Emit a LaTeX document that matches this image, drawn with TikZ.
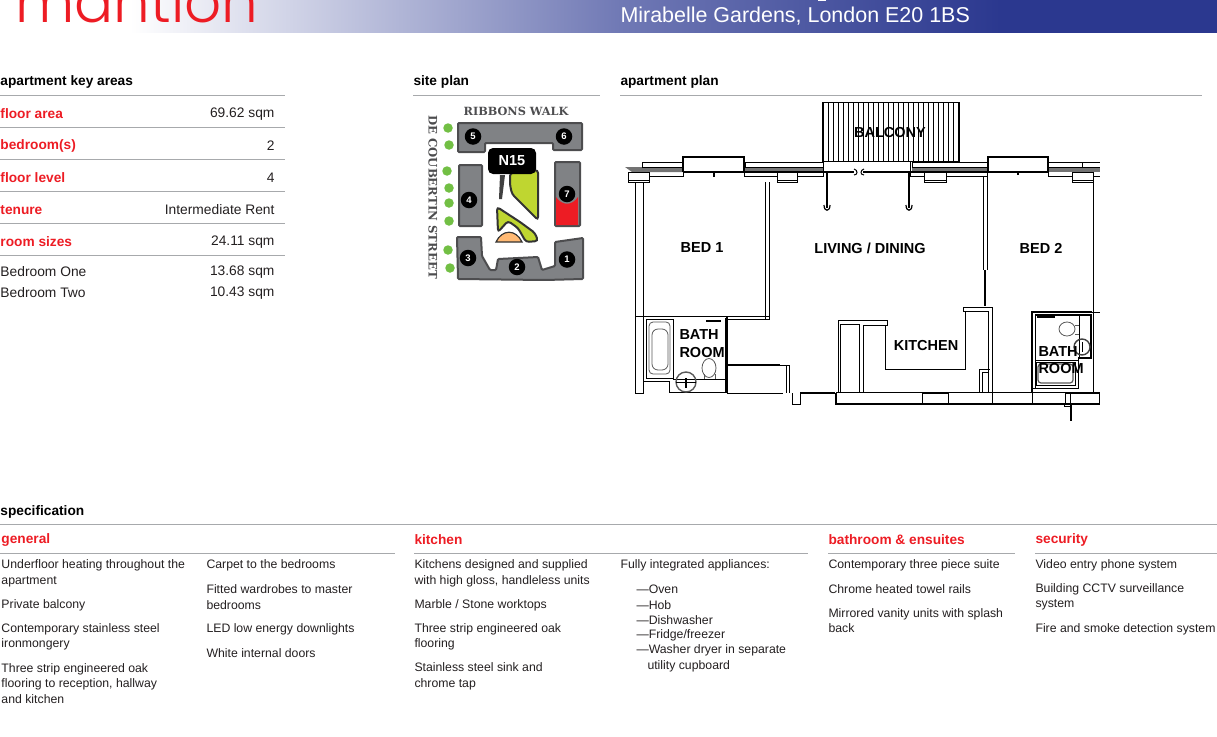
\documentclass[tikz,border=0pt]{standalone}
\usepackage{xcolor}
\usepackage{fontspec}
\setmainfont{Liberation Sans}
\newfontfamily\logofont[UprightFont=* Light]{Poppins}
\newfontfamily\slabfont{DejaVu Serif}
\definecolor{brandred}{HTML}{ED1C24}
\definecolor{brandblue}{HTML}{2B388F}
\definecolor{brandmid}{HTML}{7079B5}
\definecolor{rulegray}{HTML}{A7A9AC}
\definecolor{inkdark}{HTML}{231F20}
\definecolor{blockgray}{HTML}{808285}
\definecolor{blockline}{HTML}{4D4D4F}
\definecolor{parkgreen}{HTML}{BFD630}
\definecolor{treegreen}{HTML}{72BF44}
\begin{document}
\begin{tikzpicture}[x=1pt, y=-1pt, line width=1pt,
	body/.style={anchor=west, align=left, inner sep=0pt, text=inkdark, font=\fontsize{12.27}{15.4}\selectfont},
	value/.style={anchor=east, inner sep=0pt, text=inkdark, font=\fontsize{13.8}{15}\selectfont},
	heading/.style={anchor=west, inner sep=0pt, text=black, font=\fontsize{13.7}{15}\selectfont\bfseries},
	redhead/.style={anchor=west, inner sep=0pt, text=brandred, font=\fontsize{13.7}{15}\selectfont\bfseries},
	roomlabel/.style={inner sep=0pt, text=black, align=left, font=\fontsize{14.5}{17}\selectfont\bfseries},
	block/.style={draw=blockline, fill=blockgray, line width=2pt, rounded corners=1pt},
	park/.style={draw=black!80, fill=parkgreen, line width=2pt, rounded corners=3pt},
	tree/.style={circle, fill=treegreen, inner sep=0pt, minimum size=9.5pt},
	marker/.style={circle, fill=black, text=white, inner sep=0pt, minimum size=16.5pt, font=\fontsize{9.5}{10}\selectfont\bfseries},
	rule/.style={draw=rulegray, line width=1pt},
	wall/.style={draw=black, line width=1pt},
	heavy/.style={draw=black, line width=2pt},
	fitting/.style={draw=black!65, line width=0.8pt}]
	\useasboundingbox (0, 0) rectangle (1217, 736);

	\begin{scope}
		\clip (0, 0) rectangle (1217, 32);
		\shade[left color=white, right color=brandmid] (130, -2) rectangle (620, 34);
		\shade[left color=brandmid, right color=brandblue] (620, -2) rectangle (1000, 34);
		\fill[brandblue] (1000, -2) rectangle (1217, 34);
		\node[anchor=base west, inner sep=0pt, text=brandred, font=\fontsize{58}{58}\logofont] (LOGO) at (15, 23) {mantion};
	\end{scope}
	\draw[white] (818, 0.5) -- (826, 0.5);
	\node[anchor=west, inner sep=0pt, text=white, font=\fontsize{21.45}{23}\selectfont] (ADDR) at (620, 16) {Mirabelle Gardens, London E20 1BS};

	\node[heading] (H1) at (0, 82) {apartment key areas};
	\node[heading] (H2) at (413, 82) {site plan};
	\node[heading] (H3) at (620, 82) {apartment plan};
	\draw[rule] (0, 95) -- (285, 95);
	\draw[rule] (413, 95) -- (600, 95);
	\draw[rule] (620, 95) -- (1202, 95);

	\draw[rule] (0, 127) -- (285, 127);
	\draw[rule] (0, 159) -- (285, 159);
	\draw[rule] (0, 191) -- (285, 191);
	\draw[rule] (0, 223) -- (285, 223);
	\draw[rule] (0, 255) -- (285, 255);

	\node[redhead] (K1) at (0, 114) {floor area};
	\node[redhead] (K2) at (0, 146) {bedroom(s)};
	\node[redhead] (K3) at (0, 178) {floor level};
	\node[redhead] (K4) at (0, 210) {tenure};
	\node[redhead] (K5) at (0, 242) {room sizes};
	\node[value, anchor=west] (K6) at (0, 272) {Bedroom One};
	\node[value, anchor=west] (K7) at (0, 293) {Bedroom Two};
	\node[value] (A1) at (275, 114) {69.62 sqm};
	\node[value] (A2) at (275, 146) {2};
	\node[value] (A3) at (275, 178) {4};
	\node[value] (A4) at (275, 210) {Intermediate Rent};
	\node[value] (A5) at (275, 242) {24.11 sqm};
	\node[value] (A6) at (275, 272) {13.68 sqm};
	\node[value] (A7) at (275, 293) {10.43 sqm};

	% site plan
	\draw[block] (458, 123) -- (582, 123) -- (582, 150) -- (553, 150) -- (553, 143) -- (485, 143) -- (485, 152) -- (458, 152) -- cycle;
	\draw[block] (459, 165) -- (482, 165) -- (482, 226) -- (459, 226) -- cycle;
	\draw[block] (555, 162) -- (580, 162) -- (580, 226) -- (555, 226) -- cycle;
	\fill[brandred] (556, 197) .. controls (562, 206) and (572, 206) .. (578, 197) -- (578, 225) -- (556, 225) -- cycle;
	\draw[block] (457, 237) -- (481, 237) -- (482, 256) -- (490, 270) -- (496, 270) -- (498, 259) -- (538, 257) -- (542, 270) -- (555, 266) -- (555, 242) -- (583, 238) -- (583, 279) -- (545, 280) -- (458, 279) -- cycle;
	\draw[park] (510, 173) -- (538, 170) -- (538, 220) -- (512, 194) -- (510, 185) -- cycle;
	\draw[park] (497, 207) -- (520, 222) -- (535, 233) -- (538, 241) -- (526, 242) -- (518, 228) -- (508, 221) -- (498, 232) -- cycle;
	\fill[black!75] (500, 175) -- (505, 175) -- (502, 199) -- (499, 199) -- cycle;
	\draw[black!80, fill=orange!55!white, line width=1.2pt] (496, 242) .. controls (502, 229) and (516, 229) .. (522, 242) -- cycle;
	\node[rectangle, rounded corners=5pt, fill=black, text=white, minimum width=48pt, minimum height=26pt, inner sep=0pt, font=\fontsize{14.5}{15}\selectfont\bfseries] (N15) at (512, 161) {N15};

	\node[tree] (T1) at (448, 128) {};
	\node[tree] (T2) at (449, 145) {};
	\node[tree] (T3) at (447, 171) {};
	\node[tree] (T4) at (449, 188) {};
	\node[tree] (T5) at (449, 203) {};
	\node[tree] (T6) at (449, 221) {};
	\node[tree] (T7) at (448, 250) {};
	\node[tree] (T8) at (450, 268) {};

	\node[marker] (B5) at (473, 136.5) {5};
	\node[marker] (B6) at (564, 136.5) {6};
	\node[marker] (B4) at (469, 200) {4};
	\node[marker] (B7) at (567, 194) {7};
	\node[marker] (B3) at (468, 258) {3};
	\node[marker] (B2) at (517, 267) {2};
	\node[marker] (B1) at (567, 259.5) {1};

	\node[inner sep=0pt, text=blockline, font=\fontsize{11.3}{12}\slabfont\bfseries] (S1) at (516, 111) {RIBBONS WALK};
	\node[inner sep=0pt, rotate=-90, text=blockline, font=\fontsize{11.7}{12}\slabfont\bfseries] (S2) at (433, 197) {DE COUBERTIN STREET};

	% apartment plan, balcony and front
	\draw[draw=black, line width=1.8pt] (823, 162) -- (823, 102.5) -- (959, 102.5) -- (959, 162);
	\foreach \xh in {828, 833, ..., 956} {
		\draw[black, line width=0.5pt] (\xh, 103) -- (\xh, 161);
	}
	\draw[black, line width=1pt] (823, 161.5) -- (959, 161.5);

	\fill[black!55] (625, 167) -- (683, 167) -- (683, 172) -- (632, 172) -- cycle;
	\fill[black!55] (745, 167) rectangle (823, 172);
	\fill[black!55] (912, 167) rectangle (987, 172);
	\fill[black!55] (1048, 167) rectangle (1100, 172);
	\draw[wall] (642, 167) -- (642, 162) -- (683, 162) -- (683, 167) -- cycle;
	\draw[wall] (745, 167) -- (745, 162) -- (823, 162) -- (823, 167) -- cycle;
	\draw[wall] (912, 167) -- (912, 162) -- (987, 162) -- (987, 167) -- cycle;
	\draw[wall] (1048, 167) -- (1048, 162) -- (1100, 162);
	\draw[wall] (1048, 167) -- (1100, 167);
	\draw[wall] (1082, 162) -- (1082, 167);
	\draw[draw=black, line width=1.5pt] (683, 172) -- (683, 157) -- (744, 157) -- (744, 172);
	\draw[draw=black, line width=1.5pt] (988, 172) -- (988, 157) -- (1048, 157) -- (1048, 172);
	\draw[heavy] (683, 172) -- (854, 172);
	\draw[heavy] (863, 172) -- (1048, 172);
	\draw[wall] (823, 162) -- (823, 172);
	\draw[wall] (910, 162) -- (910, 172);
	\draw[wall] (854, 169) .. controls (858, 170) and (858, 175) .. (854, 175);
	\draw[wall] (864, 169) .. controls (860, 170) and (860, 175) .. (864, 175);
	\draw[heavy] (714, 172) -- (714, 177);
	\draw[heavy] (1018, 172) -- (1018, 174.5);

	\draw[wall] (648, 172) -- (648, 176.5) -- (683, 176.5) -- (683, 172);
	\draw[wall] (744, 172) -- (744, 176.5) -- (823, 176.5) -- (823, 172);
	\draw[wall] (910, 172) -- (910, 176.5) -- (987, 176.5) -- (987, 172);
	\draw[wall] (1048, 172) -- (1048, 176.5) -- (1100, 176.5);
	\draw[wall, fill=white] (628, 172) rectangle (649, 182);
	\draw[wall] (628, 180) -- (649, 180);
	\draw[wall, fill=white] (777, 172) rectangle (797, 182);
	\draw[wall] (777, 180) -- (797, 180);
	\draw[wall, fill=white] (924, 172) rectangle (946, 182);
	\draw[wall] (924, 180) -- (946, 180);
	\draw[wall, fill=white] (1072, 172) rectangle (1093, 182);
	\draw[wall] (1072, 180) -- (1093, 180);

	\draw[heavy] (827, 172) -- (827, 208);
	\draw[heavy] (909, 172) -- (909, 208);
	\draw[heavy, line width=1.2pt] (824, 205) .. controls (824, 212) and (830, 212) .. (830, 205);
	\draw[heavy, line width=1.2pt] (906, 205) .. controls (906, 212) and (912, 212) .. (912, 205);

	% walls
	\draw[wall] (635, 182) -- (635, 393) -- (643, 393) -- (643, 182);
	\draw[wall] (635, 316) -- (643, 316);
	\draw[wall] (765, 182) -- (765, 319);
	\draw[wall] (769, 182) -- (769, 319) -- (762, 319);
	\draw[wall] (643, 316) -- (727, 316);
	\draw[wall] (728, 316) -- (769, 316);
	\draw[wall] (728, 319) -- (762, 319);
	\draw[wall, line width=1.4pt] (727, 316) -- (727, 393);
	\draw[wall, line width=1.4pt] (728, 365) -- (780, 365);
	\draw[wall] (780, 365) -- (789, 365) -- (789, 393);
	\draw[wall] (786, 365) -- (786, 393);
	\draw[wall] (727, 393) -- (783, 393);
	\draw[wall] (792, 393) -- (792, 404) -- (800, 404) -- (800, 393);
	\draw[wall, line width=1.4pt] (800, 393) -- (835, 393);
	\draw[wall, line width=1.2pt] (836, 393) -- (836, 404) -- (1100, 404);
	\draw[wall] (836, 392.5) -- (1100, 392.5);
	\draw[wall] (922, 393) -- (922, 404);
	\draw[wall] (948, 393) -- (948, 404);
	\draw[wall, line width=1.5pt] (922, 393) -- (948, 393);
	\draw[wall] (1065, 393) rectangle (1099, 403);
	\draw[wall] (1070, 393) -- (1070, 403);
	\draw[wall] (1064, 404) -- (1064, 406.5) -- (1071, 406.5);
	\draw[wall, line width=1.3pt] (1071, 405) -- (1071, 421);

	% kitchen
	\draw[wall] (838, 392) -- (838, 320.5) -- (887, 320.5) -- (887, 325) -- (863, 325) -- (863, 392);
	\draw[wall] (840, 392) -- (840, 324) -- (859, 324) -- (859, 392);
	\draw[wall] (885, 325) -- (885, 369) -- (965, 369) -- (965, 311);
	\draw[wall] (988, 311) -- (963, 311) -- (963, 307) -- (992, 307) -- (992, 404);
	\draw[wall] (988, 311) -- (988, 392);
	\draw[wall] (979, 392) -- (979, 369) -- (990, 369);
	\draw[wall] (982, 392) -- (982, 372) -- (988, 372);
	\draw[wall] (983, 177) -- (983, 270);
	\draw[wall] (987, 177) -- (987, 270);
	\draw[heavy] (985, 270) -- (985, 306);
	\draw[wall] (1093, 182) -- (1093, 393);

	% bathroom one
	\draw[wall] (670, 381) -- (643, 381);
	\draw[wall] (669, 381) -- (669, 392) -- (725, 392) -- (725, 318);
	\draw[wall] (646, 319) -- (646, 378) -- (673, 378) -- (673, 319) -- cycle;
	\draw[wall] (673, 379) -- (725, 379);
	\draw[fitting, rounded corners=4pt] (649, 322) rectangle (670, 374);
	\draw[fitting, rounded corners=6pt] (652, 329) rectangle (668, 370);
	\draw[fitting, line width=1.4pt] (686, 382) circle (10);
	\draw[wall] (676, 382) -- (696, 382);
	\draw[heavy] (686, 378) -- (686, 388);
	\draw[fitting] (709, 368) ellipse (7 and 9.5);
	\draw[fitting] (704, 374) -- (704, 379);
	\draw[fitting] (715, 374) -- (715, 379);
	\draw[heavy] (706, 320.5) -- (721, 320.5);

	% bathroom two
	\draw[wall, line width=1.4pt] (1092, 312) -- (1032, 312) -- (1032, 393);
	\draw[wall] (1032, 393) -- (1032, 404);
	\draw[wall] (1092, 312) -- (1100, 312);
	\draw[wall] (1035, 315) -- (1035, 388);
	\draw[wall, line width=1.4pt] (1035, 315) -- (1091, 315) -- (1091, 358) -- (1078, 358);
	\draw[wall] (1078, 358) -- (1078, 388) -- (1033, 388);
	\draw[wall] (1079, 315) -- (1079, 358);
	\draw[wall] (1035, 360) -- (1078, 360);
	\draw[wall] (1036, 362) rectangle (1075, 385);
	\draw[fitting, rounded corners=3pt, line width=1.2pt] (1038, 364) rectangle (1073, 383);
	\draw[heavy] (1037, 317) -- (1055, 317);
	\draw[fitting] (1067, 329) ellipse (8 and 7);
	\draw[fitting] (1075, 325) -- (1079, 325);
	\draw[fitting] (1075, 334) -- (1079, 334);
	\draw[black!75, line width=1.4pt] (1082, 347) circle (8);
	\draw[wall] (1082, 342) -- (1082, 352);

	\node[roomlabel] (R1) at (890, 133) {BALCONY};
	\node[roomlabel] (R2) at (702, 248) {BED 1};
	\node[roomlabel] (R3) at (870, 248) {LIVING / DINING};
	\node[roomlabel] (R4) at (1041, 248) {BED 2};
	\node[roomlabel] (R5) at (926, 346) {KITCHEN};
	\node[roomlabel, anchor=west] (R6) at (679, 335) {BATH};
	\node[roomlabel, anchor=west] (R7) at (679, 352.5) {ROOM};
	\node[roomlabel, anchor=west] (R8) at (1038, 352) {BATH};
	\node[roomlabel, anchor=west] (R9) at (1038, 369) {ROOM};

	% specification
	\node[heading] (H4) at (0, 512) {specification};
	\draw[rule] (0, 524.5) -- (1217, 524.5);
	\node[redhead] (G1) at (1, 540) {general};
	\node[redhead] (G2) at (414, 540) {kitchen};
	\node[redhead] (G3) at (828, 540) {bathroom \& ensuites};
	\node[redhead] (G4) at (1035, 540) {security};
	\draw[rule] (0, 553.5) -- (395, 553.5);
	\draw[rule] (414, 553.5) -- (808, 553.5);
	\draw[rule] (828, 553.5) -- (1015, 553.5);
	\draw[rule] (1035, 553.5) -- (1217, 553.5);

	\node[body] (P1) at (1, 573.2) {Underfloor heating throughout the\\apartment};
	\node[body] (P2) at (1, 605.2) {Private balcony};
	\node[body] (P3) at (1, 636.7) {Contemporary stainless steel\\ironmongery};
	\node[body] (P4) at (1, 683.5) {Three strip engineered oak\\flooring to reception, hallway\\and kitchen};
	\node[body] (P5) at (206, 565.7) {Carpet to the bedrooms};
	\node[body] (P6) at (206, 597.2) {Fitted wardrobes to master\\bedrooms};
	\node[body] (P7) at (206, 629.2) {LED low energy downlights};
	\node[body] (P8) at (206, 652.7) {White internal doors};

	\node[body] (P9) at (414, 573.2) {Kitchens designed and supplied\\with high gloss, handleless units};
	\node[body] (P10) at (414, 605.2) {Marble / Stone worktops};
	\node[body] (P11) at (414, 636.7) {Three strip engineered oak\\flooring};
	\node[body] (P12) at (414, 676.2) {Stainless steel sink and\\chrome tap};
	\node[body] (P13) at (620, 565.7) {Fully integrated appliances:};
	\node[body] (L1) at (636, 589.7) {—Oven};
	\node[body] (L2) at (636, 604.7) {—Hob};
	\node[body] (L3) at (636, 620.2) {—Dishwasher};
	\node[body] (L4) at (636, 635.7) {—Fridge/freezer};
	\node[body] (L5) at (636, 650.7) {—Washer dryer in separate};
	\node[body] (L6) at (647, 666.7) {utility cupboard};

	\node[body] (P14) at (828, 565.2) {Contemporary three piece suite};
	\node[body] (P15) at (828, 588.7) {Chrome heated towel rails};
	\node[body] (P16) at (828, 620.7) {Mirrored vanity units with splash\\back};
	\node[body] (P17) at (1035, 565.2) {Video entry phone system};
	\node[body] (P18) at (1035, 596.7) {Building CCTV surveillance\\system};
	\node[body] (P19) at (1035, 629.2) {Fire and smoke detection system};
\end{tikzpicture}
\end{document}
